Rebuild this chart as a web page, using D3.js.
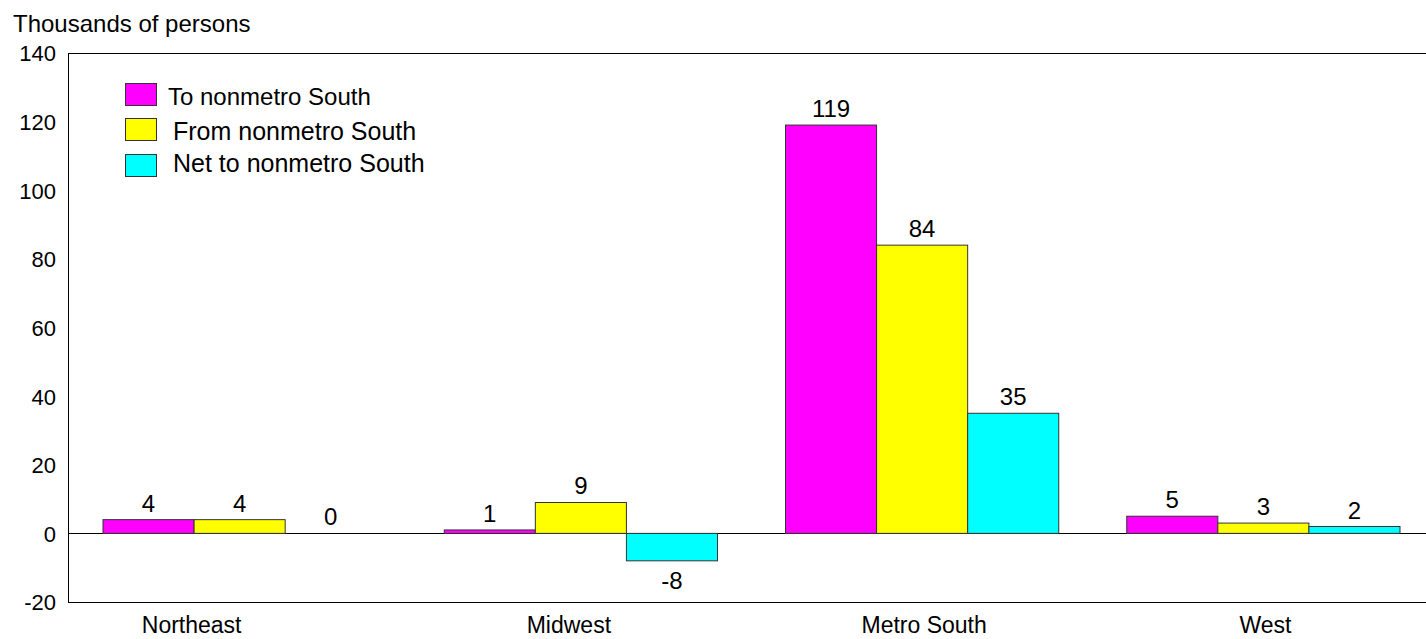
<!DOCTYPE html>
<html><head><meta charset="utf-8">
<script src="https://cdn.jsdelivr.net/npm/d3@7"></script>
<style>body{margin:0;background:#fff}svg{display:block;font-family:"Liberation Sans",Arial,sans-serif}</style>
</head><body><svg id="c" width="1426" height="639"></svg>
<script>
const categories = ["Northeast","Midwest","Metro South","West"];
const seriesNames = ["To nonmetro South","From nonmetro South","Net to nonmetro South"];
const toValues = [4,1,119,5];
const fromValues = [4,9,84,3];
const netValues = [0,-8,35,2];
const yTicks = [-20,0,20,40,60,80,100,120,140];
const colors = ["#FF00FF","#FFFF00","#00FFFF"];
const labelShift = [-48,-12,2,2]; // layout: category label offsets from band centre

const series = [toValues, fromValues, netValues];
const FONT = "Liberation Sans, Arial, sans-serif";
const svg = d3.select("#c");
const L = 68, R = 1434, T = 53, B = 602;
const x = d3.scaleBand().domain(categories).range([L+1, R]).paddingInner(0).paddingOuter(0);
const xs = d3.scaleBand().domain(d3.range(3)).range([34, x.bandwidth()-34]).padding(0);
const y = d3.scaleLinear().domain([-20,140]).range([B, T]);

// frame
svg.append("line").attr("x1",L).attr("x2",1426).attr("y1",T+0.5).attr("y2",T+0.5).attr("stroke","#000");
svg.append("line").attr("x1",L).attr("x2",1426).attr("y1",B+0.5).attr("y2",B+0.5).attr("stroke","#000");
svg.append("line").attr("x1",L+0.5).attr("x2",L+0.5).attr("y1",T).attr("y2",B+1).attr("stroke","#000");
svg.append("line").attr("x1",L).attr("x2",1426).attr("y1",Math.round(y(0))+0.5).attr("y2",Math.round(y(0))+0.5).attr("stroke","#000");

const yAxis = d3.axisLeft(y).tickValues(yTicks).tickSize(0).tickPadding(12).tickFormat(d=>String(d));
const ga = svg.append("g").attr("transform",`translate(${L},0)`).call(yAxis);
ga.select(".domain").remove();
ga.attr("font-size",22).attr("font-family",FONT);
ga.selectAll("text").attr("fill","#000").attr("dy","0.36em");

// bars
const groups = svg.selectAll("g.grp").data(categories).join("g").attr("class","grp")
  .attr("transform",d=>`translate(${x(d)},0)`);
series.forEach((vals,si)=>{
  groups.append("rect")
    .attr("x",xs(si)).attr("width",xs.bandwidth())
    .attr("y",(d,i)=>y(Math.max(0,vals[i])))
    .attr("height",(d,i)=>Math.abs(y(vals[i])-y(0)))
    .attr("fill",colors[si]).attr("stroke","#333").attr("stroke-width",1);
  groups.append("text")
    .attr("x",xs(si)+xs.bandwidth()/2)
    .attr("y",(d,i)=>vals[i]<0 ? y(vals[i])+28 : y(vals[i])-8)
    .attr("text-anchor","middle").attr("font-size",24).attr("fill","#000")
    .text((d,i)=>vals[i]);
});

// category labels
svg.selectAll("text.cat").data(categories).join("text").attr("class","cat")
  .attr("x",(d,i)=>x(d)+x.bandwidth()/2+labelShift[i]).attr("y",633)
  .attr("text-anchor","middle").attr("font-size",23).attr("fill","#000").text(d=>d);

// title
svg.append("text").attr("x",13).attr("y",32).attr("font-size",24).attr("fill","#000").text("Thousands of persons");

// legend
const leg = svg.append("g");
const legY = [83,118,154], legTX = [168,173,173], legBase = [105,140,172];
seriesNames.forEach((n,i)=>{
  leg.append("rect").attr("x",125.5).attr("y",legY[i]+0.5).attr("width",31).attr("height",22)
    .attr("fill",colors[i]).attr("stroke","#333");
  leg.append("text").attr("x",legTX[i]).attr("y",legBase[i]).attr("font-size",i===0?24:25).attr("fill","#000").text(n);
});
</script></body></html>
